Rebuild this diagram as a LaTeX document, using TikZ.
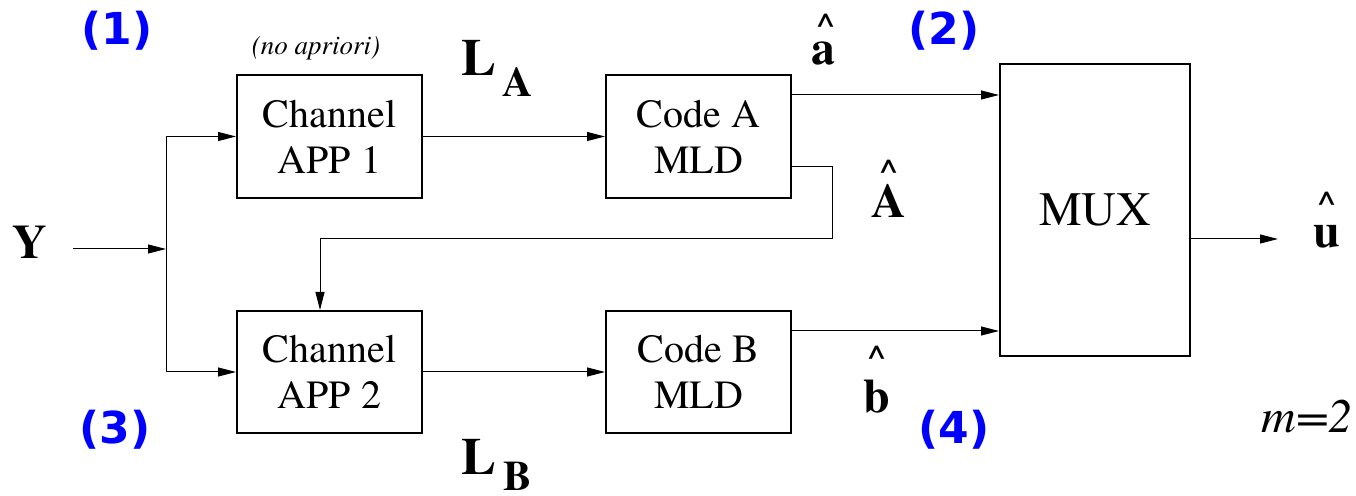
\documentclass[tikz,border=0pt]{standalone}
\usepackage{fontspec}
\setmainfont{texgyretermes}[Extension=.otf,UprightFont=*-regular,BoldFont=*-bold,ItalicFont=*-italic,BoldItalicFont=*-bolditalic]
\newfontfamily\labfont{DejaVu Sans}
\usetikzlibrary{arrows.meta}
\begin{document}
\begin{tikzpicture}[x=0.5pt,y=-0.5pt,
  box/.style={draw,line width=1pt,inner sep=0pt,align=center,font=\fontsize{20}{23}\selectfont},
  arr/.style={-{Triangle[length=9pt,width=4.5pt]},line width=0.5pt},
  num/.style={text=blue,inner sep=0pt,font=\labfont\bfseries\fontsize{22}{26}\selectfont},
  sym/.style={font=\bfseries\fontsize{24}{28}\selectfont,anchor=base,inner sep=0pt},
  hat/.style={font=\bfseries\fontsize{18}{22}\selectfont,inner sep=0pt,anchor=base},
  sub/.style={font=\bfseries\fontsize{21}{25}\selectfont,anchor=base,inner sep=0pt}]
\useasboundingbox (0,0) rectangle (1356,496);

% boxes
\node[box,minimum width=92.5pt,minimum height=61.5pt] (ch1) at (329.5,136.5) {Channel\\APP 1};
\node[box,minimum width=92.5pt,minimum height=61.5pt] (ca) at (698.5,136.5) {Code A\\MLD};
\node[box,minimum width=92.5pt,minimum height=61pt] (ch2) at (329.5,372) {Channel\\APP 2};
\node[box,minimum width=92.5pt,minimum height=61pt] (cb) at (698.5,372) {Code B\\MLD};
\node[box,minimum width=95pt,minimum height=146pt,font=\fontsize{24}{28}\selectfont] (mux) at (1095,210) {MUX};

% coordinates
\coordinate (yin) at (73,249);
\coordinate (split) at (166,249);
\coordinate (aout) at (791,95);
\coordinate (fbout) at (791,167);
\coordinate (fbturn) at (320,239);
\coordinate (bout) at (791,331);
\coordinate (muxout) at (1190,239);
\coordinate (uend) at (1278,239);

% connectors
\draw[arr] (yin) -- (split);
\draw[arr] (split) |- (ch1.west);
\draw[arr] (split) |- (ch2.west);
\draw[arr] (ch1) -- (ca);
\draw[arr] (ch2) -- (cb);
\draw[arr] (aout) -- (aout -| mux.west);
\draw[arr] (bout) -- (bout -| mux.west);
\draw[arr] (fbout) -- ++(41,0) |- (fbturn) -- (fbturn |- ch2.north);
\draw[arr] (muxout) -- (uend);

% labels
\node[num] (n1) at (117,31) {(1)};
\node[num] (n2) at (944,31) {(2)};
\node[num] (n3) at (115,430) {(3)};
\node[num] (n4) at (954,430) {(4)};
\node[inner sep=0pt,font=\itshape\fontsize{13.5}{16}\selectfont] (nap) at (316,48) {(no apriori)};

\node[sym] (Y) at (30,259) {Y};
\node[sym,font=\bfseries\fontsize{26}{30}\selectfont] (LA) at (479,76) {L};
\node[sub] (LAs) at (518,97) {A};
\node[sym,font=\bfseries\fontsize{26}{30}\selectfont] (LB) at (479,475) {L};
\node[sub] (LBs) at (518,491) {B};

\node[sym] (ah) at (823,65) {a};
\node[hat] (ahc) at (826,39) {\smash{\textasciicircum}};
\node[sym] (Ah) at (889,218) {A};
\node[hat] (Ahc) at (889,185) {\smash{\textasciicircum}};
\node[sym] (bh) at (877,413) {b};
\node[hat] (bhc) at (877,371) {\smash{\textasciicircum}};
\node[sym] (uh) at (1327,248) {u};
\node[hat] (uhc) at (1327,217) {\smash{\textasciicircum}};

\node[anchor=base,inner sep=0pt,font=\itshape\fontsize{24}{28}\selectfont] (m) at (1307,433) {m=2};
\end{tikzpicture}
\end{document}
